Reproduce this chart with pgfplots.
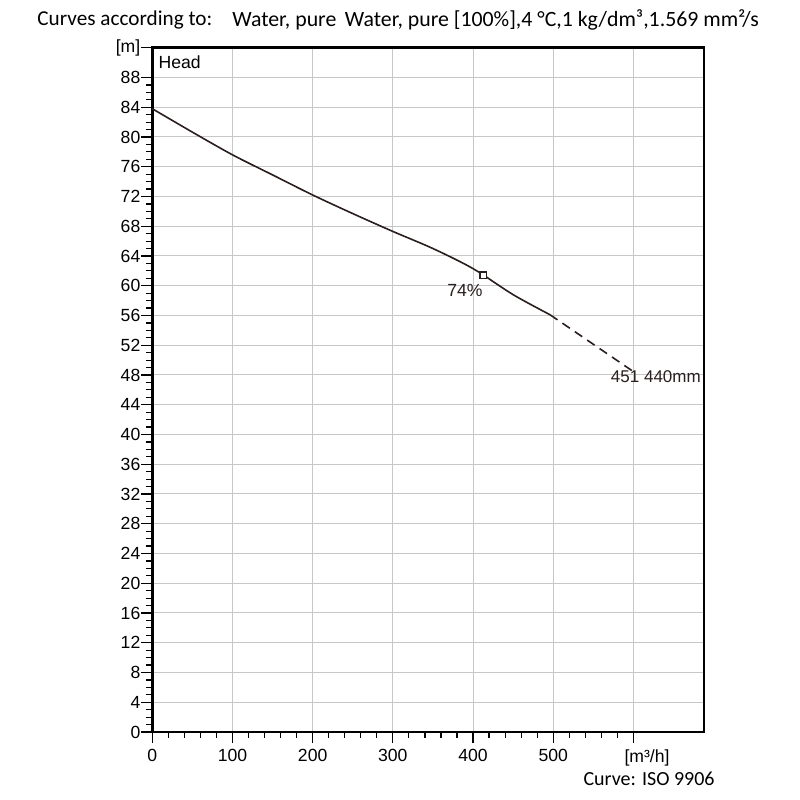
\documentclass[border=0pt]{standalone}
\usepackage{fontspec}
\setmainfont{Liberation Sans}
\newfontfamily\calibri{Carlito}
\usepackage{pgfplots}
\pgfplotsset{compat=1.18}
\definecolor{curve}{HTML}{2A1E1E}
\begin{document}
\begin{tikzpicture}
\begin{axis}[
  scale only axis, width=275.85pt, height=342.15pt,
  xmin=0, xmax=688, ymin=0, ymax=92,
  axis line style={line width=1.3pt},
  xtick={0,100,...,600}, xticklabels={0,100,200,300,400,500,{}},
  minor x tick num=4,
  ytick={0,4,...,88}, minor y tick num=3,
  extra y ticks={92}, extra y tick labels={[m]}, extra y tick style={grid=none},
  tick align=outside, tick pos=left,
  major tick length=5.5pt, minor tick length=3pt,
  tick style={black, line width=0.6pt},
  grid=major, major grid style={black!22, line width=0.5pt},
  ticklabel style={font=\fontsize{8.8}{10}\selectfont},
  yticklabel style={inner sep=0.3pt},
  xticklabel style={inner sep=3pt},
  /pgf/number format/assume math mode=true,
  clip=false,
]
\coordinate (O) at (rel axis cs:0,0);
\addplot[curve, line width=0.8pt, smooth] coordinates {
(0,83.8) (50,80.65) (100,77.6) (150,74.9) (200,72.2) (250,69.7) (300,67.3)
(350,65.0) (400,62.3) (450,58.8) (496,56.1)};
\addplot[curve, line width=0.8pt, dash pattern=on 4.5pt off 3pt] coordinates {
(496,56.1) (598,48.6)};
\addplot[curve, only marks, mark=square*, mark size=1.6pt, mark options={fill=white, line width=0.8pt}] coordinates {(413,61.4)};
\node[font=\fontsize{8.8}{10}\selectfont, anchor=north west, inner sep=0pt] at ([xshift=3pt,yshift=-4pt]rel axis cs:0,1) {Head};
\node[font=\fontsize{8.8}{10}\selectfont, text=curve] at (axis cs:390,59.4) {74\%};
\node[font=\fontsize{8.5}{10}\selectfont, text=curve] at (axis cs:628,47.8) {451 440mm};
\node[font=\fontsize{8.8}{10}\selectfont, anchor=north, inner sep=3pt] at ([yshift=-5.5pt]axis cs:617,0) {[m³/h]};
\end{axis}
\node[font=\calibri\fontsize{10.6}{13}\selectfont, anchor=west, inner sep=0pt] at ([shift={(-57.65pt,356pt)}]O) {Curves according to:};
\node[font=\calibri\fontsize{10.9}{12}\selectfont, anchor=west, inner sep=0pt] at ([shift={(39.85pt,356pt)}]O) {Water, pure\, Water, pure [100\%],4 °C,1 kg/dm³,1.569 mm²/s};
\node[font=\calibri\fontsize{10}{12}\selectfont, anchor=east, inner sep=0pt] at ([shift={(281.35pt,-23.5pt)}]O) {Curve: ISO 9906};
\pgfresetboundingbox
\path[use as bounding box] ([shift={(-76.15pt,-34pt)}]O) rectangle ++(400pt,400pt);
\end{tikzpicture}
\end{document}
